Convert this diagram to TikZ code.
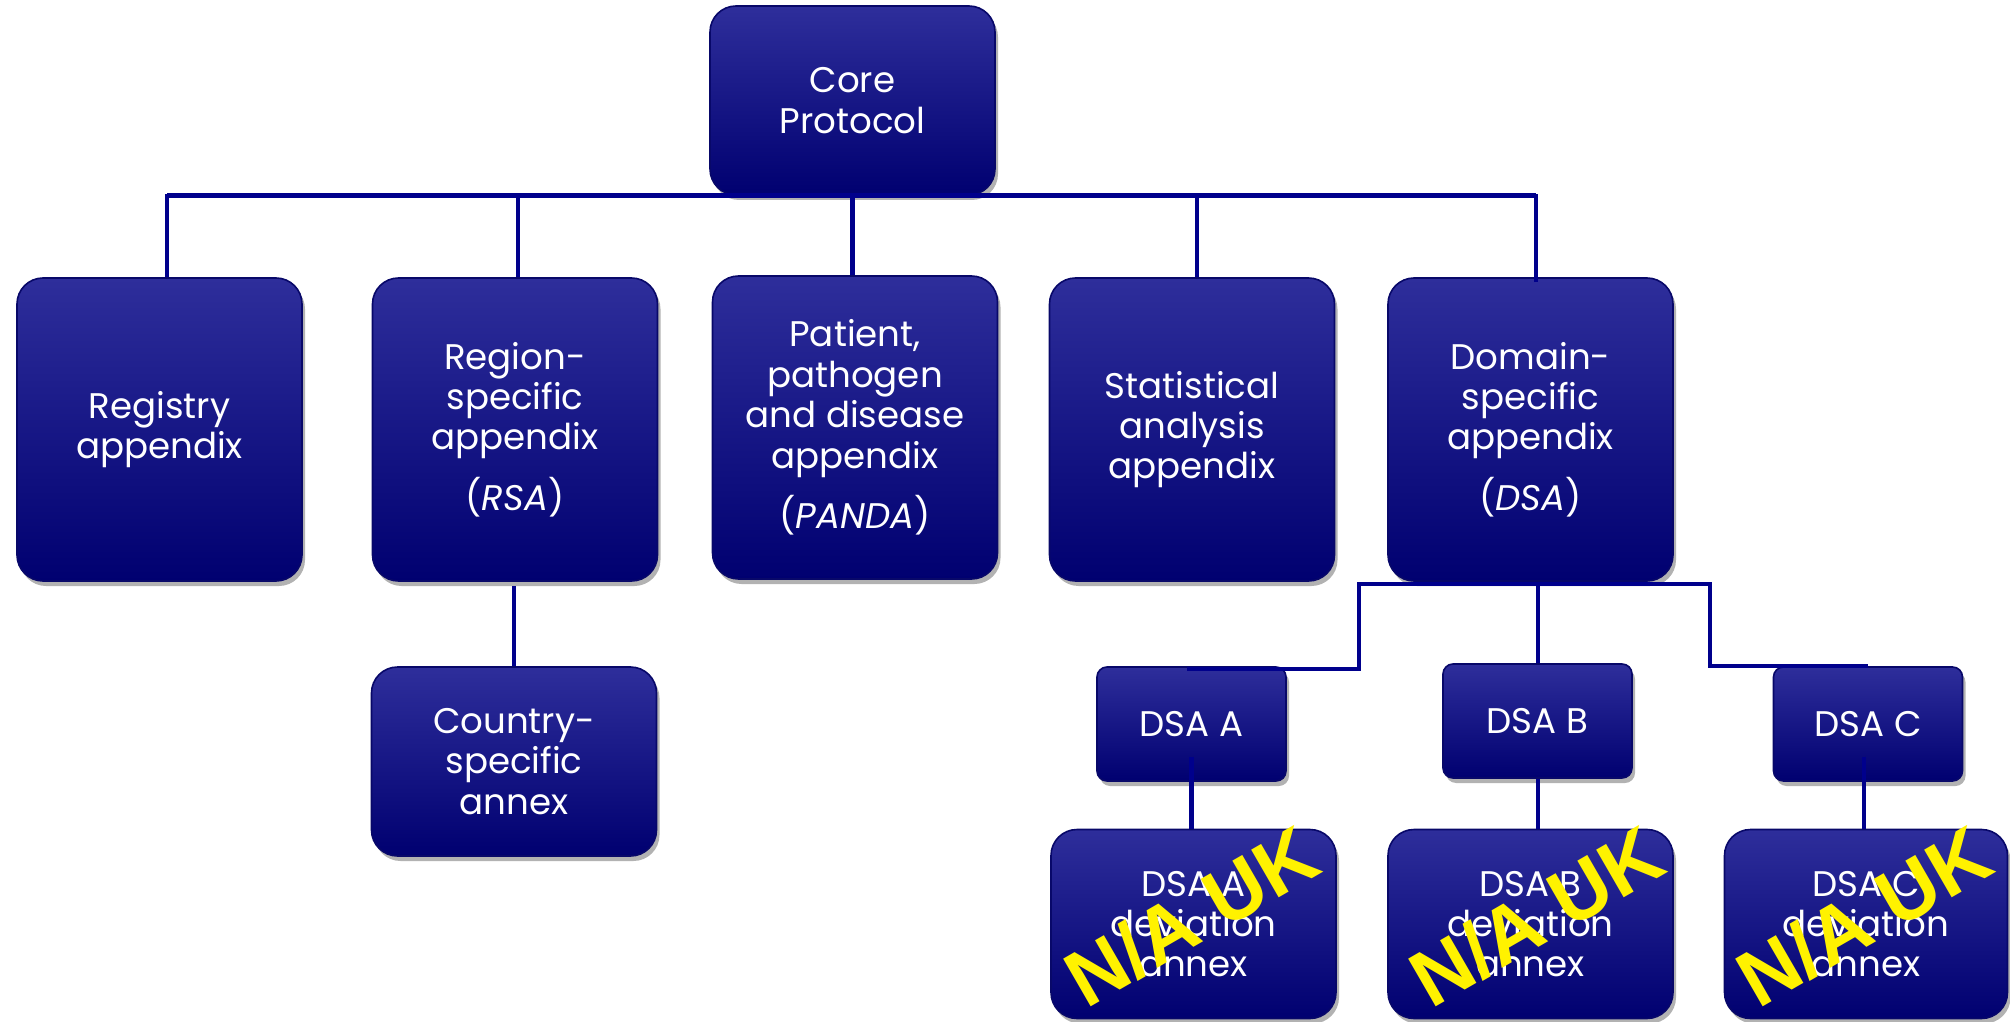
\documentclass[tikz,border=0pt]{standalone}
\usepackage{fontspec}
\setmainfont{Poppins}
\newfontfamily\stampfont{Liberation Sans}
\usetikzlibrary{shadows,calc}
\definecolor{navyline}{RGB}{0,0,140}
\definecolor{boxtop}{RGB}{46,46,155}
\definecolor{boxbot}{RGB}{0,0,112}
\definecolor{boxedge}{RGB}{8,8,105}
\tikzset{
  x=0.5pt, y=-0.5pt,
  box/.style={draw=boxedge, line width=0.8pt, rounded corners=13pt,
    top color=boxtop, bottom color=boxbot, text=white, align=center,
    minimum width=142.5pt, minimum height=151.5pt, inner sep=0pt,
    font=\fontsize{17.8}{20.2}\selectfont},
  shadowed/.style={drop shadow={shadow xshift=1.5pt, shadow yshift=-2.5pt, opacity=0.3, fill=black}},
  bigbox/.style={box, shadowed},
  shortbox/.style={box, shadowed, minimum height=94.5pt},
  smallbox/.style={box, shadowed, rounded corners=5pt, minimum width=94.5pt, minimum height=57pt},
  conn/.style={draw=navyline, line width=2.2pt},
  stamp/.style={rotate=30, text=yellow, inner sep=0pt,
    font=\stampfont\bfseries\fontsize{40}{40}\selectfont},
}
\begin{document}
\begin{tikzpicture}
\useasboundingbox (0,0) rectangle (2010,1022);
\node[shortbox] (core) at (852.5,100.5) {Core\\Protocol};
\draw[conn] (167,195) -- (1536,195);
\node[bigbox] (reg) at (159.5,429.5) {Registry\\appendix};
\node[bigbox] (rsa) at (515,429.5) {Region-\\specific\\appendix\\[8pt](\textit{RSA})};
\node[bigbox] (panda) at (855,427.5) {Patient,\\pathogen\\and disease\\appendix\\[8pt](\textit{PANDA})};
\node[bigbox] (stat) at (1192,429.5) {Statistical\\analysis\\appendix};
\node[bigbox] (dsa) at (1530.5,429.5) {Domain-\\specific\\appendix\\[8pt](\textit{DSA})};
\node[shortbox] (country) at (514,761.5) {Country-\\specific\\annex};
\node[smallbox] (dsaA) at (1191.5,724) {DSA A};
\node[smallbox] (dsaB) at (1537.5,721) {DSA B};
\node[smallbox] (dsaC) at (1868,724) {DSA C};
\node[shortbox] (annA) at (1193.5,924) {DSA A\\deviation\\annex};
\node[shortbox] (annB) at (1530.5,924) {DSA B\\deviation\\annex};
\node[shortbox, minimum width=141.5pt] (annC) at (1866,924) {DSA C\\deviation\\annex};
% top bus
\draw[conn] ($(reg.north)+(7.5,0)$) |- (core.south);
\draw[conn] ($(rsa.north)+(3,0)$) |- (core.south);
\draw[conn] (core.south) -- (core.south |- panda.north);
\draw[conn] ($(stat.north)+(5,0)$) |- (core.south);
\draw[conn] ($(dsa.north)+(5.5,5)$) |- (core.south);
% RSA to country
\draw[conn] ($(rsa.south)+(-1,4)$) -- ($(rsa.south |- country.north)+(-1,0)$);
% DSA subtree
\draw[conn] ($(dsaA.north)+(-5,3)$) -| ($(dsa.south)+(-171.5,2)$) -| ($(dsaC.north)+(-158,0)$) -- (dsaC.north);
\draw[conn] ($(dsaB.north)+(0.5,0)$) -- ($(dsaB.north |- dsa.south)+(0.5,2)$);
\draw[conn] ($(dsaA.south)+(0,-25)$) -- (dsaA.south |- annA.north);
\draw[conn] ($(dsaC.south)+(-4,-25)$) -- ($(dsaC.south |- annC.north)+(-4,0)$);
\draw[conn] ($(dsaB.south)+(0.5,0)$) -- ($(dsaB.south |- annB.north)+(0.5,0)$);
% stamps
\node[stamp] (stampA) at ($(annA.center)+(-2,-8)$) {N/A UK};
\node[stamp] (stampB) at ($(annB.center)+(6,-8)$) {N/A UK};
\node[stamp] (stampC) at ($(annC.center)+(-2,-8)$) {N/A UK};
\end{tikzpicture}
\end{document}
